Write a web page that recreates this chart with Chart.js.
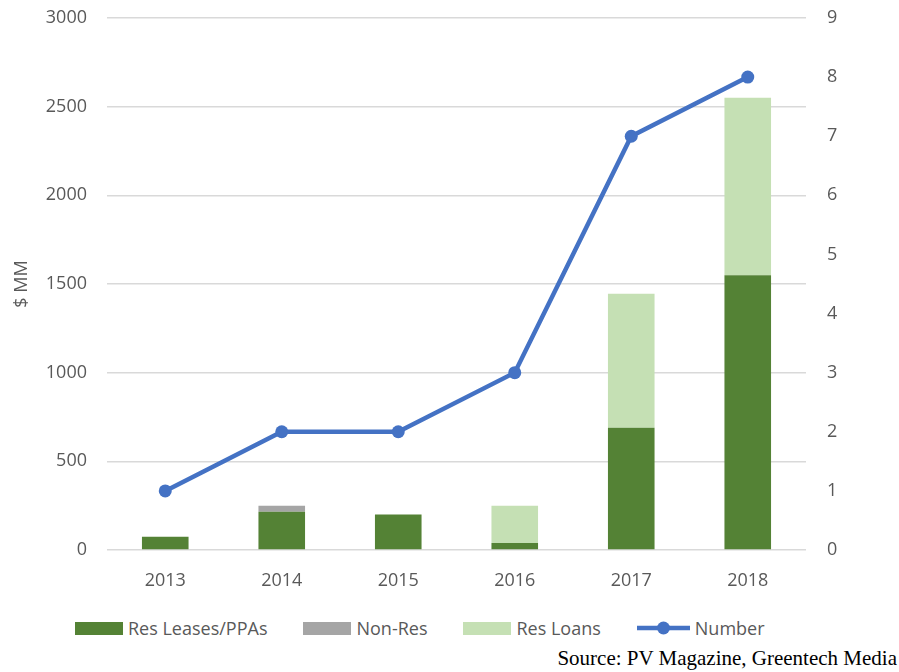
<!DOCTYPE html>
<html>
<head>
<meta charset="utf-8">
<script src="https://cdn.jsdelivr.net/npm/chart.js@4"></script>
<style>
  body { margin: 0; background: #fff; }
  #wrap { position: relative; width: 899px; height: 672px; }
  #legend {
    position: absolute; left: 75px; top: 617px; height: 22px;
    display: flex; align-items: center; gap: 36px;
    font-family: "Open Sans", sans-serif; font-size: 18px; color: #595959;
  }
  .item { display: flex; align-items: center; gap: 5px; white-space: nowrap; }
  .swatch { width: 48px; height: 13px; }
  #source {
    position: absolute; right: 2px; top: 646px;
    font-family: "Liberation Serif", serif; font-size: 21px; color: #000;
  }
</style>
</head>
<body>
<div id="wrap">
  <canvas id="chart" width="899" height="600"></canvas>
  <div id="legend"></div>
  <div id="source">Source: PV Magazine, Greentech Media</div>
</div>
<script>
const years = ["2013", "2014", "2015", "2016", "2017", "2018"];
const resLeases = [75, 215, 200, 40, 690, 1550];
const nonRes = [0, 35, 0, 0, 0, 0];
const resLoans = [0, 0, 0, 210, 755, 1000];
const number = [1, 2, 2, 3, 7, 8];

const textColor = "#595959";
const tickFont = { family: "Open Sans", size: 18 };

const datasets = [
  {
    type: "line",
    label: "Number",
    data: number,
    yAxisID: "y1",
    borderColor: "#4472C4",
    backgroundColor: "#4472C4",
    borderWidth: 4.5,
    pointRadius: 6.5,
    pointBorderWidth: 0,
    tension: 0,
    order: 0,
  },
  { label: "Res Leases/PPAs", data: resLeases, backgroundColor: "#548235", order: 1 },
  { label: "Non-Res", data: nonRes, backgroundColor: "#A5A5A5", order: 1 },
  { label: "Res Loans", data: resLoans, backgroundColor: "#C5E0B4", order: 1 },
];

// fixed axis sizes, no extra padding from the tick labels
const fitY = (w) => (s) => {
  s.width = w;
  s.paddingTop = 0;
  s.paddingBottom = 0;
};

const chart = new Chart(document.getElementById("chart"), {
  type: "bar",
  data: { labels: years, datasets: datasets },
  options: {
    responsive: false,
    animation: false,
    devicePixelRatio: 1,
    layout: { padding: { top: 18, left: 0, right: 0, bottom: 0 } },
    datasets: { bar: { categoryPercentage: 0.8, barPercentage: 0.5 } },
    plugins: {
      legend: { display: false },
      tooltip: { enabled: false },
    },
    scales: {
      x: {
        stacked: true,
        grid: { display: false },
        border: { display: false },
        ticks: { color: textColor, font: tickFont, padding: 12 },
        afterFit: (s) => { s.height = 50; },
      },
      y: {
        stacked: true,
        min: 0,
        max: 3000,
        ticks: { stepSize: 500, color: textColor, font: tickFont, padding: 20, callback: (v) => String(v) },
        grid: { color: "#D9D9D9", lineWidth: 1.5, drawTicks: false },
        border: { display: false },
        title: {
          display: true,
          text: "$ MM",
          color: textColor,
          font: tickFont,
          padding: { top: 11, bottom: 0 },
        },
        afterFit: fitY(107),
      },
      y1: {
        position: "right",
        min: 0,
        max: 9,
        ticks: { stepSize: 1, color: textColor, font: tickFont, padding: 21 },
        grid: { display: false, drawTicks: false },
        border: { display: false },
        afterFit: fitY(93),
      },
    },
  },
});

// legend in html, same order as the original
const legend = document.getElementById("legend");
const legendOrder = [1, 2, 3, 0];
legendOrder.forEach((i) => {
  const ds = chart.data.datasets[i];
  const item = document.createElement("div");
  item.className = "item";
  let sw;
  if (ds.type === "line") {
    sw = document.createElement("canvas");
    sw.width = 53;
    sw.height = 14;
    const c = sw.getContext("2d");
    c.strokeStyle = ds.borderColor;
    c.lineWidth = 4.5;
    c.beginPath();
    c.moveTo(0, 7);
    c.lineTo(53, 7);
    c.stroke();
    c.fillStyle = ds.borderColor;
    c.beginPath();
    c.arc(26.5, 7, 6.5, 0, Math.PI * 2);
    c.fill();
  } else {
    sw = document.createElement("div");
    sw.className = "swatch";
    sw.style.background = ds.backgroundColor;
  }
  const txt = document.createElement("span");
  txt.textContent = ds.label;
  item.appendChild(sw);
  item.appendChild(txt);
  legend.appendChild(item);
});
</script>
</body>
</html>
